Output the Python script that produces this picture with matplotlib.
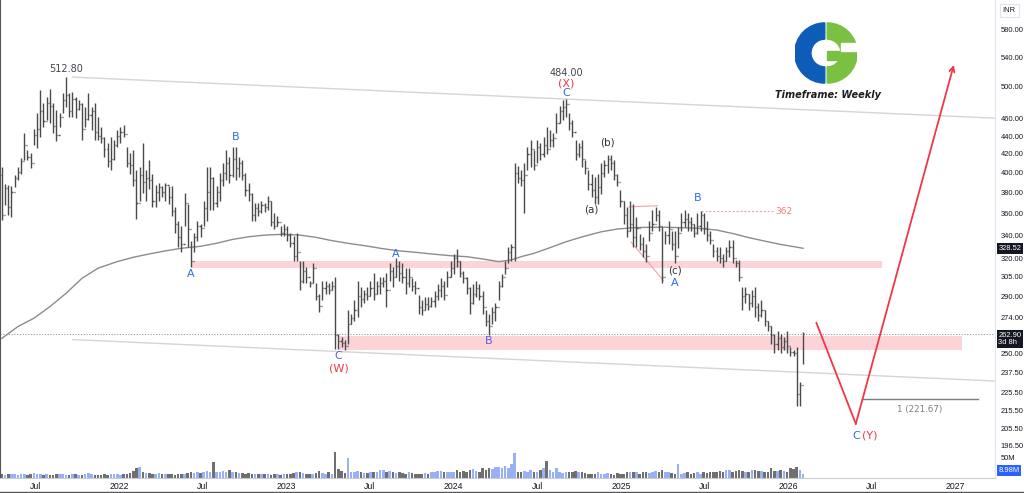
import numpy as np
import pandas as pd
import matplotlib
matplotlib.use("Agg")
import matplotlib.pyplot as plt
import matplotlib.dates as mdates
import matplotlib.transforms as mtransforms
from matplotlib.patches import Wedge, Rectangle
from matplotlib.ticker import NullLocator, NullFormatter

plt.rcParams["font.family"] = ["DejaVu Sans"]

# weekly bars, first week starting 2021-04-19
startDate = "2021-04-19"
firstOpen = 398

highs = [406, 388, 387, 386, 398, 406, 416, 443, 424, 421,
         448, 467, 496, 479, 487, 498, 479, 471, 467, 492,
         512.8, 492, 494, 487, 483, 479, 475, 492, 475, 479,
         463, 451, 439, 432, 439, 435, 447, 451, 453, 428,
         421, 424, 403, 406, 432, 403, 413, 399, 387, 389,
         386, 389, 386, 386, 366, 353, 348, 379, 369, 335,
         342, 353, 350, 372, 406, 406, 396, 386, 400, 410,
         424, 417, 428, 428, 417, 413, 400, 389, 379, 370,
         370, 372, 370, 376, 372, 360, 357, 348, 350, 348,
         342, 339, 342, 318, 318, 313, 302, 316, 300, 292,
         302, 302, 300, 302, 305, 263, 261, 259, 280, 277,
         287, 302, 297, 295, 297, 302, 308, 302, 305, 305,
         308, 316, 313, 320, 318, 316, 312, 312, 304, 302,
         291, 287, 289, 289, 289, 294, 299, 304, 302, 310,
         318, 324, 328, 318, 310, 305, 297, 299, 302, 299,
         294, 280, 277, 282, 285, 302, 307, 318, 330, 332,
         410, 407, 403, 410, 428, 435, 424, 435, 432, 439,
         450, 447, 443, 467, 476, 483, 484, 467, 459, 435,
         432, 435, 413, 403, 399, 396, 399, 410, 413, 419,
         419, 413, 399, 382, 372, 366, 372, 369, 356, 341,
         338, 332, 353, 363, 366, 363, 347, 344, 353, 344,
         344, 347, 360, 363, 360, 356, 350, 360, 362, 360,
         353, 344, 332, 330, 330, 324, 330, 336, 336, 319,
         319, 297, 297, 292, 295, 297, 285, 287, 280, 272,
         268, 263, 265, 263, 261, 265, 254, 252, 254, 232,
         264]

lows = [354, 368, 358, 356, 385, 392, 399, 413, 413, 405,
        430, 426, 439, 451, 459, 455, 443, 434, 451, 467,
        475, 463, 463, 461, 471, 435, 451, 459, 447, 435,
        435, 432, 417, 406, 403, 413, 428, 432, 439, 406,
        399, 386, 355, 372, 379, 372, 383, 366, 366, 372,
        375, 372, 369, 357, 342, 330, 325, 348, 330, 313,
        325, 335, 338, 348, 353, 363, 363, 366, 372, 386,
        392, 389, 396, 392, 396, 392, 376, 372, 353, 353,
        357, 360, 361, 363, 348, 345, 348, 339, 339, 335,
        330, 318, 318, 295, 300, 300, 297, 300, 287, 278,
        287, 292, 292, 295, 253, 253, 254, 252, 256, 270,
        272, 275, 282, 285, 287, 290, 287, 292, 292, 297,
        282, 302, 297, 305, 302, 300, 292, 297, 294, 292,
        277, 276, 280, 280, 282, 282, 287, 289, 287, 297,
        305, 307, 313, 305, 300, 292, 277, 284, 289, 287,
        277, 268, 262, 270, 272, 287, 297, 307, 316, 318,
        318, 389, 386, 360, 403, 406, 403, 410, 413, 417,
        420, 428, 428, 443, 455, 459, 463, 447, 439, 413,
        417, 406, 399, 382, 375, 369, 369, 378, 396, 400,
        403, 392, 386, 366, 350, 338, 344, 330, 330, 327,
        321, 317, 335, 344, 353, 344, 300, 332, 332, 327,
        316, 329, 344, 347, 344, 344, 338, 341, 344, 341,
        335, 332, 321, 318, 316, 313, 318, 321, 316, 313,
        302, 280, 285, 280, 282, 275, 272, 275, 268, 265,
        256, 250, 252, 250, 252, 250, 248, 248, 218, 217.6,
        243]

closes = [358, 384, 366, 380, 395, 401, 412, 430, 417, 410,
          441, 448, 470, 458, 480, 476, 452, 441, 462, 483,
          490, 470, 485, 472, 478, 448, 460, 465, 470, 445,
          440, 438, 425, 412, 415, 430, 440, 445, 442, 410,
          408, 392, 370, 398, 390, 395, 392, 372, 380, 385,
          380, 387, 375, 362, 350, 338, 332, 370, 345, 318,
          338, 348, 346, 365, 380, 395, 370, 380, 392, 400,
          410, 398, 415, 405, 410, 398, 382, 378, 358, 365,
          362, 368, 366, 372, 352, 348, 352, 342, 345, 340,
          333, 322, 325, 302, 310, 305, 300, 312, 290, 283,
          296, 298, 295, 298, 262, 258, 257, 255, 270, 274,
          280, 290, 288, 292, 290, 296, 292, 298, 300, 302,
          295, 310, 305, 314, 308, 305, 300, 305, 298, 296,
          282, 280, 284, 283, 286, 290, 295, 298, 291, 305,
          312, 320, 318, 308, 304, 296, 285, 292, 296, 290,
          282, 272, 268, 278, 282, 298, 305, 312, 325, 330,
          400, 395, 392, 398, 420, 425, 408, 428, 420, 430,
          425, 435, 438, 455, 470, 475, 478, 455, 445, 420,
          428, 415, 405, 388, 382, 375, 385, 400, 408, 415,
          410, 398, 390, 372, 358, 344, 350, 338, 346, 332,
          326, 322, 342, 350, 358, 348, 305, 340, 345, 332,
          322, 342, 352, 355, 352, 350, 342, 348, 358, 346,
          340, 336, 326, 322, 320, 318, 326, 330, 320, 316,
          305, 290, 292, 285, 290, 282, 276, 280, 272, 268,
          262, 256, 260, 254, 258, 255, 251, 250, 225, 230,
          262.9]

# volume in millions
volumes = [10, 8, 9, 11, 9, 8, 11, 9, 8, 9,
           12, 10, 9, 8, 9, 8, 8, 9, 10, 9,
           8, 8, 9, 9, 8, 8, 11, 12, 9, 8,
           8, 8, 9, 8, 9, 10, 9, 8, 9, 9,
           12, 18, 24, 28, 14, 12, 12, 11, 11, 12,
           9, 9, 10, 9, 8, 10, 9, 9, 12, 14,
           12, 14, 13, 16, 18, 14, 40, 16, 14, 18,
           15, 20, 16, 14, 12, 12, 10, 12, 10, 10,
           11, 9, 10, 9, 8, 9, 10, 8, 9, 9,
           10, 12, 16, 15, 12, 11, 11, 10, 12, 18,
           12, 11, 14, 10, 65, 22, 18, 12, 50, 16,
           14, 18, 14, 12, 12, 15, 16, 16, 20, 20,
           16, 18, 14, 12, 16, 12, 9, 14, 12, 11,
           10, 10, 12, 11, 14, 15, 18, 17, 16, 14,
           15, 16, 19, 16, 18, 16, 20, 22, 18, 16,
           24, 20, 26, 22, 28, 28, 26, 29, 24, 34,
           62, 16, 14, 17, 16, 20, 16, 14, 19, 26,
           42, 20, 16, 24, 14, 12, 15, 16, 16, 18,
           15, 16, 12, 11, 11, 11, 14, 10, 9, 12,
           9, 8, 12, 11, 10, 14, 15, 16, 14, 11,
           16, 14, 12, 14, 18, 16, 19, 16, 14, 12,
           11, 35, 11, 12, 14, 10, 12, 14, 11, 15,
           12, 16, 15, 14, 18, 16, 19, 19, 16, 18,
           20, 18, 14, 16, 19, 20, 17, 18, 16, 16,
           24, 17, 18, 20, 18, 16, 26, 22, 28, 20,
           8.98]

# moving average, read at a subset of weeks
maIdx = [0, 5, 10, 15, 20, 25, 30, 36, 41, 46, 51, 56, 62, 67, 72, 77, 82,
         88, 93, 98, 103, 108, 114, 119, 124, 129, 134, 140, 145, 150, 155,
         159, 162, 166, 171, 176, 181, 187, 192, 197, 202, 207, 212, 217,
         223, 228, 233, 238, 243, 250]
maVals = [259.8, 267.9, 273.8, 282.2, 292.1, 303.8, 311.9, 317.3, 320.9,
          323.7, 326.3, 328.5, 330.2, 332.8, 336.2, 338.5, 340.0, 340.7,
          340.0, 338.0, 335.1, 332.8, 330.4, 328.1, 326.3, 325.1, 323.7,
          322.2, 321.4, 319.5, 317.3, 318.7, 321.4, 324.2, 329.0, 334.1,
          338.4, 342.9, 345.4, 346.6, 347.0, 347.0, 346.6, 346.1, 344.5,
          341.4, 337.8, 334.7, 331.8, 328.52]

priceTicks = [580, 540, 500, 460, 440, 420, 400, 380, 360, 340, 320, 305,
              290, 274, 250, 237.5, 225.5, 215.5, 205.5, 196.5]

# zones and drawings
zone1Dates = ["2022-06-09", "2026-07-24"]
zone1 = (312.1, 317.9)
zone2Dates = ["2023-04-26", "2027-01-16"]
zone2 = (252.0, 261.4)
upperChDates = ["2021-09-21", "2027-03-28"]
upperCh = [513, 461]
lowerChDates = ["2021-09-21", "2027-03-28"]
lowerCh = [259, 232.5]
fibDatesA = ["2025-01-18", "2025-03-21"]
fibA = [366, 367]
fibDatesB = ["2025-01-22", "2025-04-03"]
fibB = [334, 302]
lvlDates = ["2025-06-23", "2025-11-29"]
lvl = 362
projDates = ["2026-03-03", "2026-05-28", "2026-12-28"]
projPrices = [270.5, 208.0, 529.5]
targetDates = ["2026-06-10", "2027-02-19"]
target = 221.67

W, H = 1024, 493
red = "#f23645"
blue = "#2f6bf0"
purple = "#5a5fd6"
dark = "#434651"
axisFont = "Liberation Sans"


def frame(x0, y0, x1, y1):
    return [x0 / W, 1 - y1 / H, (x1 - x0) / W, (y1 - y0) / H]


dates = pd.date_range(startDate, periods=len(closes), freq="7D")
xd = mdates.date2num(dates)
opens = [firstOpen] + closes[:-1]
d = lambda s: mdates.date2num(pd.Timestamp(s))

fig = plt.figure(figsize=(W / 100, H / 100), dpi=100)
ax = fig.add_axes(frame(0, 0, 995, 447))
axv = fig.add_axes(frame(0, 447, 995, 478), sharex=ax)

ax.set_yscale("log")
ax.set_ylim(195.8, 627.1)
ax.set_xlim(d("2021-04-15"), d("2027-03-28"))

# zones
ax.fill_between([d(s) for s in zone1Dates], zone1[0], zone1[1], color="#fcd3d7", lw=0, zorder=1)
ax.fill_between([d(s) for s in zone2Dates], zone2[0], zone2[1], color="#fcd3d7", lw=0, zorder=1)

# channel
ax.plot([d(s) for s in upperChDates], upperCh, color="#dcd2d3", lw=1, zorder=1)
ax.plot([d(s) for s in lowerChDates], lowerCh, color="#dcd2d3", lw=1, zorder=1)

# last price dotted line
ax.axhline(closes[-1], color="#9598a1", lw=0.8, ls=(0, (1, 1.5)), zorder=1)

# OHLC bars
tick = 2.4
barColor = "#4a4a4a"
ax.vlines(xd, lows, highs, color=barColor, lw=1.0, zorder=3)
ax.hlines(opens, xd - tick, xd, color=barColor, lw=1.0, zorder=3)
ax.hlines(closes, xd, xd + tick, color=barColor, lw=1.0, zorder=3)

# moving average
ax.plot(xd[maIdx], maVals, color="#8c8c8c", lw=1.0, zorder=2, solid_joinstyle="round")

# fib style lines
ax.plot([d(s) for s in fibDatesA], fibA, color="#f5a3a8", lw=0.8, zorder=2)
ax.plot([d(s) for s in fibDatesB], fibB, color="#f5a3a8", lw=0.8, zorder=2)
ax.plot([d(s) for s in lvlDates], [lvl, lvl], color="#f5a3a8", lw=0.8, ls=(0, (2, 1.5)), zorder=2)
ax.text(d("2025-12-04"), lvl, "362", color="#f47c83", fontsize=6.5, va="center", ha="left")

# projection
px = [d(s) for s in projDates]
ax.plot(px[:2], projPrices[:2], color=red, lw=1.3, zorder=4)
ax.annotate("", xy=(px[2], projPrices[2]), xytext=(px[1], projPrices[1]),
            arrowprops=dict(arrowstyle="->", color=red, lw=1.3, shrinkA=0, shrinkB=0,
                            mutation_scale=9), zorder=4)
ax.plot([d(s) for s in targetDates], [target, target], color="#7b7e87", lw=1.0, zorder=2)
ax.text(d("2026-10-14"), target * 0.985, "1 (221.67)", color="#7b7e87", fontsize=6.3,
        ha="center", va="top")

# wave labels
labels = [
    ("512.80", xd[20], 524, dark, 7),
    ("484.00", xd[176], 518.6, dark, 7),
    ("(X)", xd[176], 505, red, 8),
    ("C", xd[176], 492, blue, 8),
    ("B", xd[73], 439, blue, 8),
    ("A", xd[59], 307, blue, 8),
    ("A", xd[123], 323.6, blue, 8),
    ("C", xd[105], 248, purple, 8),
    ("(W)", xd[105], 240.5, red, 8),
    ("B", xd[152], 258, purple, 8),
    ("(a)", xd[184], 363, "#333333", 7.5),
    ("(b)", xd[189], 433, "#333333", 7.5),
    ("(c)", xd[210], 309.7, "#333333", 7.5),
    ("A", xd[210], 300, blue, 8),
    ("B", xd[217], 374.5, blue, 8),
    ("C", d("2026-05-29"), 201.5, blue, 8),
    ("(Y)", d("2026-06-28"), 201.5, red, 8),
]
for txt, x, y, c, fs in labels:
    ax.text(x, y, txt, color=c, fontsize=fs, ha="center", va="center", zorder=5)

# right price scale
ax.yaxis.tick_right()
ax.set_yticks(priceTicks)
ax.set_yticklabels([f"{v:.2f}" for v in priceTicks], family=axisFont)
ax.yaxis.set_minor_locator(NullLocator())
ax.yaxis.set_minor_formatter(NullFormatter())
ax.tick_params(axis="y", length=0, pad=4, labelsize=5.4, colors="#131722")
ax.tick_params(axis="x", bottom=False, labelbottom=False)

trans = mtransforms.blended_transform_factory(ax.transAxes, ax.transData)
ax.text(1.0035, maVals[-1], f"{maVals[-1]:.2f}", transform=trans, color="white", fontsize=5.4,
        family=axisFont, va="center", ha="left",
        bbox=dict(boxstyle="square,pad=0.25", fc="#131722", ec="none"), zorder=6)
ax.text(1.0035, 259.4, f"{closes[-1]:.2f}\n3d 8h", transform=trans, color="white", fontsize=5.4,
        family=axisFont, va="center", ha="left", linespacing=1.05,
        bbox=dict(boxstyle="square,pad=0.25", fc="#131722", ec="none"), zorder=6)
fig.text(1009 / W, 1 - 10 / H, "INR", fontsize=5.4, family=axisFont, ha="center", va="center",
         color="#131722", bbox=dict(boxstyle="square,pad=0.4", fc="white", ec="#e0e3eb", lw=0.8))

ax.spines["top"].set_visible(False)
ax.spines["left"].set_color("#555555")
ax.spines["right"].set_color("#e0e3eb")
ax.spines["bottom"].set_color("#e0e3eb")

# volume pane
volColors = ["#98b1f6" if c >= o else "#6f6f6f" for c, o in zip(closes, opens)]
axv.bar(xd, volumes, width=5.6, color=volColors, lw=0)
axv.set_ylim(0, 77.5)
axv.yaxis.tick_right()
axv.set_yticks([50])
axv.set_yticklabels(["50M"], family=axisFont)
axv.tick_params(axis="y", length=0, pad=4, labelsize=5.4, colors="#131722")
axv.text(1.0035, 0.23, "8.98M", transform=axv.transAxes, color="white", fontsize=5.4,
         family=axisFont, va="center", ha="left",
         bbox=dict(boxstyle="square,pad=0.25", fc="#2962ff", ec="none"))
axv.spines["top"].set_visible(False)
axv.spines["left"].set_color("#555555")
axv.spines["right"].set_color("#e0e3eb")
axv.spines["bottom"].set_color("#c9ccd4")

tickDates = pd.date_range("2021-07-01", "2027-01-01", freq="6MS")
axv.set_xticks(mdates.date2num(tickDates))
axv.set_xticklabels([str(t.year) if t.month == 1 else "Jul" for t in tickDates], family=axisFont)
axv.tick_params(axis="x", length=0, pad=3, labelsize=6.3, colors="#131722")

fig.add_artist(plt.Line2D([0, 1], [1.5 / H, 1.5 / H], color="#555555", lw=1))

# logo
axl = fig.add_axes(frame(795, 22, 857, 84))
axl.set_xlim(-1.03, 1.03)
axl.set_ylim(-1.03, 1.03)
axl.axis("off")
axl.add_patch(Wedge((-0.04, 0), 1, 90, 270, width=0.54, color="#0d5db8"))
axl.add_patch(Wedge((0.04, 0), 1, -90, 90, width=0.54, color="#7ac143"))
axl.add_patch(Rectangle((0.04, -0.22), 0.93, 0.27, color="#7ac143"))
axl.add_patch(Rectangle((0.5, 0.05), 0.6, 0.28, color="white"))
fig.text(828 / W, 1 - 95 / H, "Timeframe: Weekly", fontsize=7, style="italic", weight="bold",
         ha="center", va="center", color="#1e1e1e")

fig.savefig("out.png", dpi=100, facecolor="white")
